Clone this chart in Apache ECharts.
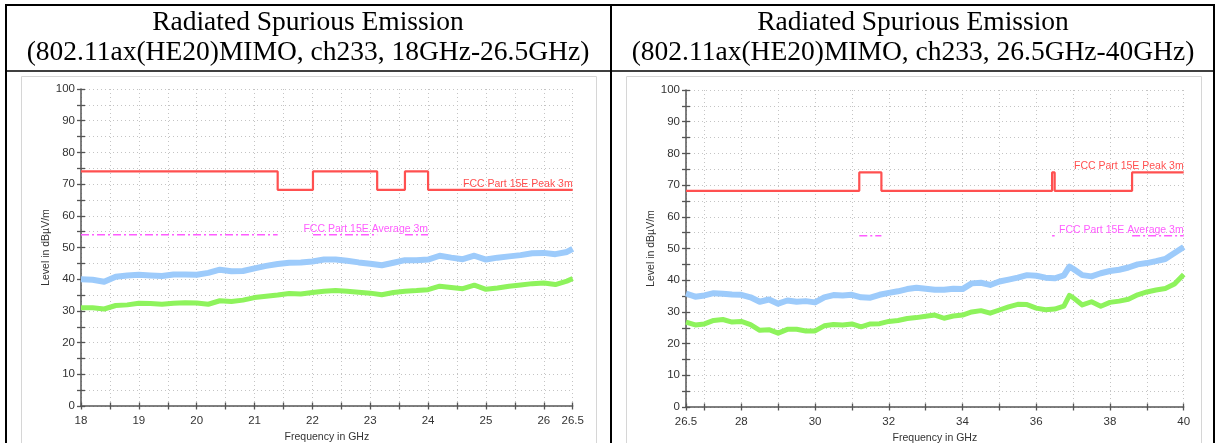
<!DOCTYPE html>
<html>
<head>
<meta charset="utf-8">
<script src="https://cdn.jsdelivr.net/npm/echarts@6/dist/echarts.min.js"></script>
<style>
  html, body { margin: 0; padding: 0; background: #fff; }
  #chart { width: 1216px; height: 443px; }
</style>
</head>
<body>
<div id="chart"></div>
<script>
// ---- Titles -------------------------------------------------------------
const TITLE_LINE_1 = 'Radiated Spurious Emission';
const LEFT_TITLE_LINE_2 = '(802.11ax(HE20)MIMO, ch233, 18GHz-26.5GHz)';
const RIGHT_TITLE_LINE_2 = '(802.11ax(HE20)MIMO, ch233, 26.5GHz-40GHz)';

// ---- Axis text ----------------------------------------------------------
const X_NAME = 'Frequency in GHz';
const Y_NAME = 'Level in dB\u00b5V/m';
const PEAK_LIMIT_NAME = 'FCC Part 15E Peak 3m';
const AVG_LIMIT_NAME = 'FCC Part 15E Average 3m';

// ---- Ticks and tick labels ---------------------------------------------
const Y_TICKS = [0, 5, 10, 15, 20, 25, 30, 35, 40, 45, 50, 55, 60, 65, 70, 75, 80, 85, 90, 95, 100];
const Y_TICK_LABELS = [0, 10, 20, 30, 40, 50, 60, 70, 80, 90, 100];
const LEFT_X_TICKS = [18, 18.5, 19, 19.5, 20, 20.5, 21, 21.5, 22, 22.5, 23, 23.5, 24, 24.5, 25, 25.5, 26, 26.5];
const LEFT_X_TICK_LABELS = [18, 19, 20, 21, 22, 23, 24, 25, 26, 26.5];
const RIGHT_X_TICKS = [26.5, 27, 28, 29, 30, 31, 32, 33, 34, 35, 36, 37, 38, 39, 40];
const RIGHT_X_TICK_LABELS = [26.5, 28, 30, 32, 34, 36, 38, 40];

// ---- Limit lines (GHz breakpoints, dBuV/m) ------------------------------
const LEFT_PEAK_LIMIT_FREQ = [18, 21.4, 22.01, 23.12, 23.6, 24.0, 26.5];
const LEFT_PEAK_LIMIT_LEVEL = [74, 68.2, 74, 68.2, 74, 68.2, 68.2];
const LEFT_AVG_LIMIT_BANDS = [[18, 21.4], [22.01, 23.12], [23.6, 24.0]];
const RIGHT_PEAK_LIMIT_FREQ = [26.5, 31.2, 31.8, 36.43, 36.5, 38.6, 40];
const RIGHT_PEAK_LIMIT_LEVEL = [68.2, 74, 68.2, 74, 68.2, 74, 74];
const RIGHT_AVG_LIMIT_BANDS = [[31.2, 31.8], [36.43, 36.5], [38.6, 40]];
const AVG_LIMIT_LEVEL = 54;

// ---- Measured traces, 18 - 26.5 GHz -------------------------------------
const LEFT_FREQ = [18.0, 18.2, 18.4, 18.6, 18.8, 19.0, 19.2, 19.4, 19.6, 19.8, 20.0, 20.2, 20.4, 20.6, 20.8,
  21.0, 21.2, 21.4, 21.6, 21.8, 22.0, 22.2, 22.4, 22.6, 22.8, 23.0, 23.2, 23.4, 23.6, 23.8, 24.0, 24.2, 24.4,
  24.6, 24.8, 25.0, 25.2, 25.4, 25.6, 25.8, 26.0, 26.2, 26.4, 26.5];
const LEFT_PEAK_TRACE = [40.0, 39.8, 39.2, 40.8, 41.2, 41.4, 41.2, 41.0, 41.5, 41.5, 41.4, 42.0, 43.0, 42.5, 42.6,
  43.4, 44.2, 44.8, 45.2, 45.3, 45.6, 46.2, 46.2, 45.8, 45.3, 44.9, 44.4, 45.2, 46.0, 46.0, 46.2, 47.4, 46.8,
  46.3, 47.4, 46.2, 46.8, 47.2, 47.6, 48.2, 48.3, 47.9, 48.6, 49.6];
const LEFT_AVG_TRACE = [31.0, 31.0, 30.6, 31.7, 31.9, 32.4, 32.3, 32.1, 32.4, 32.6, 32.5, 32.1, 33.2, 33.0, 33.4,
  34.2, 34.6, 35.0, 35.5, 35.3, 35.8, 36.2, 36.4, 36.2, 35.9, 35.6, 35.1, 35.8, 36.2, 36.4, 36.7, 37.8, 37.4,
  37.0, 38.1, 36.8, 37.2, 37.8, 38.2, 38.6, 38.8, 38.3, 39.4, 40.2];

// ---- Measured traces, 26.5 - 40 GHz -------------------------------------
const RIGHT_FREQ = [26.5, 26.75, 27.0, 27.25, 27.5, 27.75, 28.0, 28.25, 28.5, 28.75, 29.0, 29.25, 29.5, 29.75,
  30.0, 30.25, 30.5, 30.75, 31.0, 31.25, 31.5, 31.75, 32.0, 32.25, 32.5, 32.75, 33.0, 33.25, 33.5, 33.75, 34.0,
  34.25, 34.5, 34.75, 35.0, 35.25, 35.5, 35.75, 36.0, 36.25, 36.5, 36.75, 36.9, 37.0, 37.25, 37.5, 37.75, 38.0,
  38.25, 38.5, 38.75, 39.0, 39.25, 39.5, 39.75, 40.0];
const RIGHT_PEAK_TRACE = [35.8, 34.8, 35.2, 35.9, 35.7, 35.5, 35.4, 34.6, 33.2, 33.9, 32.6, 33.6, 33.2, 33.4,
  33.0, 34.6, 35.3, 35.2, 35.4, 34.6, 34.5, 35.4, 36.0, 36.5, 37.2, 37.6, 37.3, 37.0, 37.0, 37.3, 37.2,
  39.0, 39.2, 38.5, 39.6, 40.2, 40.8, 41.6, 41.4, 40.8, 40.6, 41.5, 44.3, 43.6, 41.6, 41.2, 42.2, 42.9,
  43.3, 44.0, 45.0, 45.4, 46.0, 46.7, 48.6, 50.5];
const RIGHT_AVG_TRACE = [26.8, 25.9, 26.2, 27.3, 27.6, 26.8, 27.0, 26.0, 24.2, 24.4, 23.3, 24.5, 24.5, 24.0,
  24.0, 25.6, 26.0, 25.9, 26.2, 25.3, 26.2, 26.3, 27.0, 27.3, 27.9, 28.2, 28.6, 29.0, 28.0, 28.7, 29.0,
  30.0, 30.4, 29.6, 30.6, 31.6, 32.4, 32.3, 31.2, 30.7, 30.9, 31.8, 35.2, 34.5, 32.2, 33.2, 31.8, 33.0,
  33.4, 34.0, 35.4, 36.3, 36.9, 37.4, 38.8, 41.8];

// ---- Styling ------------------------------------------------------------
const SANS = '"Liberation Sans", Arial, Helvetica, sans-serif';
const SERIF = '"Liberation Serif", "Times New Roman", serif';
const AXIS_COLOR = '#555';
const TEXT_COLOR = '#333';
const GRID_COLOR = '#c4c4c4';
const PEAK_TRACE_COLOR = '#9dcbfb';
const AVG_TRACE_COLOR = '#8ef35c';
const PEAK_LIMIT_COLOR = '#ff5050';
const AVG_LIMIT_COLOR = '#ff5cff';

const zip = (xs, ys) => xs.map((x, i) => [x, ys[i]]);

// Restricted-band segments, broken between bands
function bandData(bands, level) {
  const out = [];
  bands.forEach((b, i) => {
    if (i > 0) out.push([b[0], '-']);
    out.push([b[0], level], [b[1], level]);
  });
  return out;
}

function xAxes(gridIndex, min, max, ticks, labels) {
  const tickStyle = { color: AXIS_COLOR, width: 1.3 };
  return [
    {
      type: 'value', gridIndex, min, max, position: 'bottom',
      name: X_NAME, nameLocation: 'middle', nameGap: 25,
      nameTextStyle: { fontFamily: SANS, fontSize: 10.5, color: TEXT_COLOR },
      axisLine: { onZero: false, lineStyle: { color: AXIS_COLOR, width: 1.5 } },
      axisTick: { show: true, length: 3.5, customValues: ticks, lineStyle: tickStyle },
      axisLabel: { customValues: labels, margin: 9, fontFamily: SANS, fontSize: 11.5, color: TEXT_COLOR },
      splitLine: { show: true, lineStyle: { color: GRID_COLOR, type: [1, 3], width: 1 } }
    },
    {
      type: 'value', gridIndex, min, max, position: 'bottom',
      axisLine: { show: false, onZero: false },
      axisTick: { show: true, inside: true, length: 3.5, customValues: ticks, lineStyle: tickStyle },
      axisLabel: { show: false },
      splitLine: { show: false }
    }
  ];
}

function yAxes(gridIndex) {
  const tickStyle = { color: AXIS_COLOR, width: 1.3 };
  return [
    {
      type: 'value', gridIndex, min: 0, max: 100, position: 'left',
      name: Y_NAME, nameLocation: 'middle', nameGap: 28,
      nameTextStyle: { fontFamily: SANS, fontSize: 10.5, color: TEXT_COLOR },
      axisLine: { show: true, onZero: false, lineStyle: { color: AXIS_COLOR, width: 1.5 } },
      axisTick: { show: true, length: 4, customValues: Y_TICKS, lineStyle: tickStyle },
      axisLabel: { customValues: Y_TICK_LABELS, margin: 6, fontFamily: SANS, fontSize: 11.5, color: TEXT_COLOR },
      splitLine: { show: true, lineStyle: { color: GRID_COLOR, type: [1, 3], width: 1 } }
    },
    {
      type: 'value', gridIndex, min: 0, max: 100, position: 'left',
      axisLine: { show: false, onZero: false },
      axisTick: { show: true, inside: true, length: 4, customValues: Y_TICKS, lineStyle: tickStyle },
      axisLabel: { show: false },
      splitLine: { show: false }
    }
  ];
}

function limitLabel(text, coord, color) {
  return {
    symbol: 'circle', symbolSize: 0, silent: true, animation: false,
    data: [{ coord }],
    label: {
      show: true, position: 'left', distance: 0, offset: [0, -6],
      formatter: text, color, fontFamily: SANS, fontSize: 10.5
    }
  };
}

function panelSeries(axisIndex, freq, peak, avg, peakFreq, peakLevel, avgBands) {
  const common = {
    type: 'line', xAxisIndex: axisIndex, yAxisIndex: axisIndex,
    showSymbol: false, symbol: 'none', silent: true, animation: false
  };
  const lastBand = avgBands[avgBands.length - 1];
  return [
    Object.assign({}, common, {
      name: 'Peak', data: zip(freq, peak), z: 2,
      lineStyle: { color: PEAK_TRACE_COLOR, width: 6, join: 'round' }
    }),
    Object.assign({}, common, {
      name: 'Average', data: zip(freq, avg), z: 3,
      lineStyle: { color: AVG_TRACE_COLOR, width: 5, join: 'round' }
    }),
    Object.assign({}, common, {
      name: AVG_LIMIT_NAME, data: bandData(avgBands, AVG_LIMIT_LEVEL), z: 4,
      connectNulls: false,
      lineStyle: { color: AVG_LIMIT_COLOR, width: 1.5, type: [8, 3, 2, 3] },
      markPoint: limitLabel(AVG_LIMIT_NAME, [lastBand[1], AVG_LIMIT_LEVEL], AVG_LIMIT_COLOR)
    }),
    Object.assign({}, common, {
      name: PEAK_LIMIT_NAME, data: zip(peakFreq, peakLevel), step: 'end', z: 5,
      lineStyle: { color: PEAK_LIMIT_COLOR, width: 2.2 },
      markPoint: limitLabel(PEAK_LIMIT_NAME,
        [peakFreq[peakFreq.length - 1], peakLevel[peakLevel.length - 1]], PEAK_LIMIT_COLOR)
    })
  ];
}

// ---- Table frame and header text ---------------------------------------
function hLine(x1, x2, y, w, color) {
  return { type: 'line', silent: true, shape: { x1, y1: y, x2, y2: y }, style: { stroke: color, lineWidth: w } };
}
function vLine(x, y1, y2, w, color) {
  return { type: 'line', silent: true, shape: { x1: x, y1, x2: x, y2 }, style: { stroke: color, lineWidth: w } };
}
function titleText(text, x, y) {
  return {
    type: 'text', silent: true,
    style: { text, x, y, fill: '#000', font: '27.5px ' + SERIF, align: 'center', verticalAlign: 'middle' }
  };
}

const graphics = [
  // chart picture frames
  { type: 'rect', silent: true, shape: { x: 21.5, y: 76.5, width: 575, height: 380 },
    style: { fill: 'none', stroke: '#d6d6d6', lineWidth: 1 } },
  { type: 'rect', silent: true, shape: { x: 626.5, y: 76.5, width: 575, height: 380 },
    style: { fill: 'none', stroke: '#d6d6d6', lineWidth: 1 } },
  // table rules
  hLine(5, 1215, 5, 2, '#000'),
  hLine(5, 1215, 71, 1.5, '#000'),
  vLine(6, 4, 443, 2, '#000'),
  vLine(611, 4, 443, 2, '#000'),
  vLine(1214, 4, 443, 2, '#000'),
  // cell headers
  titleText(TITLE_LINE_1, 308, 23),
  titleText(LEFT_TITLE_LINE_2, 308, 53),
  titleText(TITLE_LINE_1, 913, 23),
  titleText(RIGHT_TITLE_LINE_2, 913, 53)
];

const chart = echarts.init(document.getElementById('chart'), null, { renderer: 'canvas' });
chart.setOption({
  animation: false,
  backgroundColor: '#fff',
  grid: [
    { left: 81, top: 89, width: 491.7, height: 317, outerBoundsMode: 'none', containLabel: false },
    { left: 686, top: 90, width: 497.7, height: 317, outerBoundsMode: 'none', containLabel: false }
  ],
  xAxis: [].concat(
    xAxes(0, 18, 26.5, LEFT_X_TICKS, LEFT_X_TICK_LABELS),
    xAxes(1, 26.5, 40, RIGHT_X_TICKS, RIGHT_X_TICK_LABELS)
  ),
  yAxis: [].concat(yAxes(0), yAxes(1)),
  series: [].concat(
    panelSeries(0, LEFT_FREQ, LEFT_PEAK_TRACE, LEFT_AVG_TRACE,
      LEFT_PEAK_LIMIT_FREQ, LEFT_PEAK_LIMIT_LEVEL, LEFT_AVG_LIMIT_BANDS),
    panelSeries(2, RIGHT_FREQ, RIGHT_PEAK_TRACE, RIGHT_AVG_TRACE,
      RIGHT_PEAK_LIMIT_FREQ, RIGHT_PEAK_LIMIT_LEVEL, RIGHT_AVG_LIMIT_BANDS)
  ),
  graphic: graphics
});
</script>
</body>
</html>
